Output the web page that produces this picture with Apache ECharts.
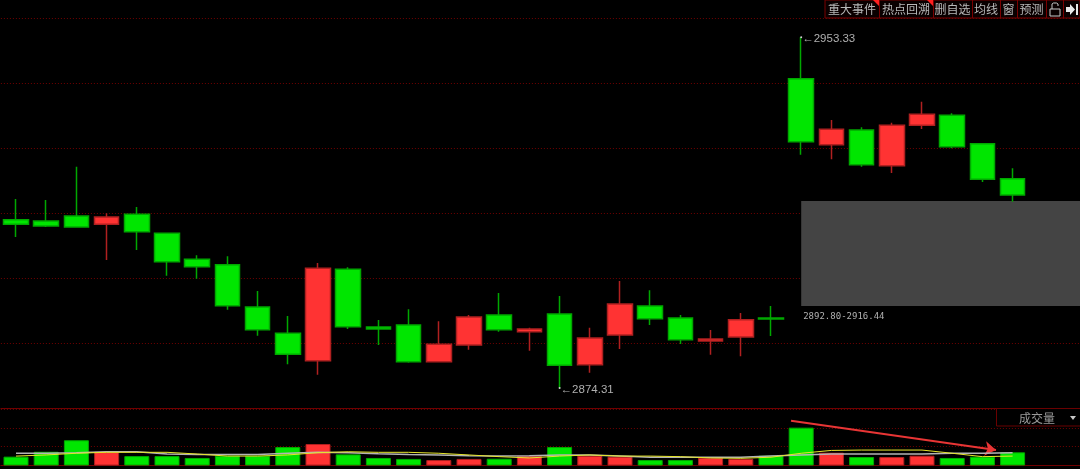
<!DOCTYPE html>
<html><head><meta charset="utf-8">
<style>html,body{margin:0;padding:0;background:#000}#c{width:1080px;height:469px}</style>
<script src="https://cdn.jsdelivr.net/npm/echarts@6/dist/echarts.min.js"></script>
</head><body><div id="c"></div>
<script>
const opens =[2912.24,2911.95,2913.08,2911.21,2913.46,2909.18,2903.32,2902.11,2892.58,2886.65,2880.48,2901.07,2888.07,2888.52,2880.26,2884.02,2890.78,2887.01,2891.00,2879.58,2886.27,2892.80,2890.10,2884.92,2885.82,2890.10,2944.00,2929.14,2932.45,2924.41,2933.51,2935.76,2929.36,2921.48];
const closes=[2911.21,2910.82,2910.60,2912.85,2909.54,2902.78,2901.66,2892.87,2887.47,2881.92,2901.29,2888.14,2887.62,2880.26,2884.18,2890.33,2887.47,2887.62,2879.45,2885.60,2893.25,2889.94,2885.21,2885.37,2889.72,2889.88,2929.81,2932.61,2924.63,2933.51,2935.98,2928.69,2921.34,2917.81];
const lows  =[2908.35,2910.60,2910.44,2903.16,2905.42,2899.63,2898.95,2891.97,2886.11,2879.67,2877.33,2887.62,2884.02,2880.03,2880.26,2882.96,2887.01,2882.73,2874.31,2877.78,2883.12,2888.52,2884.24,2881.83,2881.47,2886.05,2926.88,2925.85,2924.18,2922.76,2932.67,2928.33,2920.73,2916.30];
const highs =[2916.91,2916.68,2924.18,2913.68,2915.10,2909.18,2904.22,2904.00,2896.18,2890.55,2902.49,2901.52,2889.65,2892.06,2889.36,2890.78,2895.73,2887.91,2895.06,2887.91,2898.43,2896.34,2890.78,2887.40,2891.23,2892.80,2953.33,2934.70,2933.06,2934.09,2938.82,2936.21,2929.36,2923.82];
const volumes=[47,73,134,73,50,50,40,52,52,98,114,59,40,35,29,35,36,50,98,52,47,29,29,41,35,52,201,68,45,45,52,40,47,70];
const volMaA=[65,65,68,73,73,61,59,59,59,65,70,68,63,59,56,52,50,52,56,56,50,44,44,44,44,50,56,61,61,61,61,65,65,68];
const volMaB=[50,56,65,70,70,70,61,50,50,56,68,73,70,70,65,56,47,40,50,56,50,50,47,40,38,44,65,80,82,82,82,65,47,50];
const categories=['1','2','3','4','5','6','7','8','9','10','11','12','13','14','15','16','17','18','19','20','21','22','23','24','25','26','27','28','29','30','31','32','33','34','35','36','37'];
const zoneLow=2892.80, zoneHigh=2916.44, zoneStart='27', zoneEnd='37';
const toolbarLabels=['重大事件','热点回溯','删自选','均线','窗','预测'];
const volumeLabel='成交量';

const RED='#ff3333',GREEN='#00e600',REDB='#b02020',GREENB='#00a800',GRID='#700000';
const chart=echarts.init(document.getElementById('c'),null,{renderer:'canvas'});
const candles=opens.map((o,i)=>[o,closes[i],lows[i],highs[i]]);
const hi=highs.indexOf(Math.max(...highs)), lo=lows.indexOf(Math.min(...lows));
const textFont='"Liberation Sans",Arial,sans-serif';
const cjk='"Noto Sans CJK SC",sans-serif';

// toolbar
const seps=[825,879,933,972,1000,1017,1046,1063,1080];
const g=[];
g.push({type:'rect',shape:{x:825,y:0,width:255,height:18},style:{fill:'#0a0000',stroke:'#7a0000',lineWidth:1},z:10});
seps.slice(1,-1).forEach(x=>g.push({type:'line',shape:{x1:x+.5,y1:0,x2:x+.5,y2:18},style:{stroke:'#7a0000',lineWidth:1},z:11}));
toolbarLabels.forEach((t,i)=>g.push({type:'text',x:(seps[i]+seps[i+1])/2,y:9.5,style:{text:t,fill:'#b8b8b8',font:'12px '+cjk,align:'center',verticalAlign:'middle'},z:12}));
[879,933].forEach(x=>g.push({type:'polygon',shape:{points:[[x-6,0],[x,0],[x,6]]},style:{fill:'#ff2020'},z:12}));
// lock icon
g.push({type:'rect',shape:{x:1050,y:9,width:10,height:7},style:{fill:'none',stroke:'#c8c8c8',lineWidth:1},z:12});
g.push({type:'polyline',shape:{points:[[1052,9],[1052,4],[1053.5,3],[1056.5,3],[1058,4],[1058,6]]},style:{fill:'none',stroke:'#c8c8c8',lineWidth:1},z:12});
// exit icon
g.push({type:'polygon',shape:{points:[[1066,7],[1070,7],[1070,4],[1075,9.5],[1070,15],[1070,12],[1066,12]]},style:{fill:'#e8e8e8'},z:12});
g.push({type:'rect',shape:{x:1076,y:4,width:2,height:11},style:{fill:'#e8e8e8'},z:12});
// volume selector
g.push({type:'rect',shape:{x:996.5,y:408.5,width:90,height:17.5},style:{fill:'#000',stroke:'#6a0000',lineWidth:1},z:10});
g.push({type:'text',x:1037,y:418,style:{text:volumeLabel,fill:'#9a9a9a',font:'12px '+cjk,align:'center',verticalAlign:'middle'},z:11});
g.push({type:'polygon',shape:{points:[[1070,416],[1076,416],[1073,420]]},style:{fill:'#c8c8c8'},z:11});

chart.setOption({
  animation:false,backgroundColor:'#000',
  grid:[{left:0.9,top:18.5,width:1117.4,height:390,outerBoundsMode:'none'},{left:0.9,top:409,width:1117.4,height:56.5,outerBoundsMode:'none'}],
  xAxis:[
    {type:'category',gridIndex:0,data:categories,boundaryGap:true,axisLabel:{show:false},axisTick:{show:false},axisLine:{show:true,lineStyle:{color:GRID}},splitLine:{show:false}},
    {type:'category',gridIndex:1,data:categories,boundaryGap:true,axisLabel:{show:false},axisTick:{show:false},axisLine:{show:true,lineStyle:{color:GRID}},splitLine:{show:false}}
  ],
  yAxis:[
    {type:'value',gridIndex:0,min:2869.7144,max:2957.5628,interval:14.6414,axisLabel:{show:false},axisTick:{show:false},axisLine:{show:false},splitLine:{show:true,lineStyle:{color:GRID,type:[1,2],width:1}}},
    {type:'value',gridIndex:1,min:0,max:300,interval:100,axisLabel:{show:false},axisTick:{show:false},axisLine:{show:false},splitLine:{show:true,lineStyle:{color:GRID,type:[1,2],width:1}}}
  ],
  graphic:g,
  series:[
    {type:'candlestick',xAxisIndex:0,yAxisIndex:0,barWidth:25,data:candles,
     itemStyle:{color:RED,color0:GREEN,borderColor:REDB,borderColor0:GREENB,borderWidth:1.5},
     markArea:{silent:true,itemStyle:{color:'#444444'},
       label:{show:true,position:'insideBottomLeft',distance:0,offset:[2,15],formatter:zoneLow.toFixed(2)+'-'+zoneHigh.toFixed(2),color:'#b0b0b0',fontFamily:'"DejaVu Sans Mono",monospace',fontSize:9},
       data:[[{xAxis:zoneStart,yAxis:zoneHigh},{xAxis:zoneEnd,yAxis:zoneLow}]]},
     markPoint:{silent:true,symbol:'circle',symbolSize:2,animation:false,
       label:{show:true,position:'right',distance:0,offset:[0,1.5],color:'#b0b0b0',fontFamily:textFont,fontSize:11.5,formatter:p=>'←'+p.value.toFixed(2)},
       itemStyle:{color:'#d0d0d0'},
       data:[{coord:[hi,highs[hi]],value:highs[hi]},{coord:[lo,lows[lo]],value:lows[lo]}]}
    },
    {type:'bar',xAxisIndex:1,yAxisIndex:1,barWidth:25,
     data:volumes.map((v,i)=>({value:v,itemStyle:closes[i]>opens[i]?{color:RED,borderColor:REDB,borderWidth:1}:{color:GREEN,borderColor:GREENB,borderWidth:1}}))},
    {type:'line',xAxisIndex:1,yAxisIndex:1,data:volMaA,symbol:'none',lineStyle:{color:'#b4b4b4',width:1.5},z:5,
     markLine:{silent:true,symbol:['none','arrow'],symbolSize:[11,11],label:{show:false},lineStyle:{color:'#e83535',width:2,type:'solid'},animation:false,
       data:[[{x:791,y:420.7},{x:996,y:450}]]}},
    {type:'line',xAxisIndex:1,yAxisIndex:1,data:volMaB,symbol:'none',lineStyle:{color:'#e6e62a',width:1},z:6}
  ]
});
</script></body></html>
